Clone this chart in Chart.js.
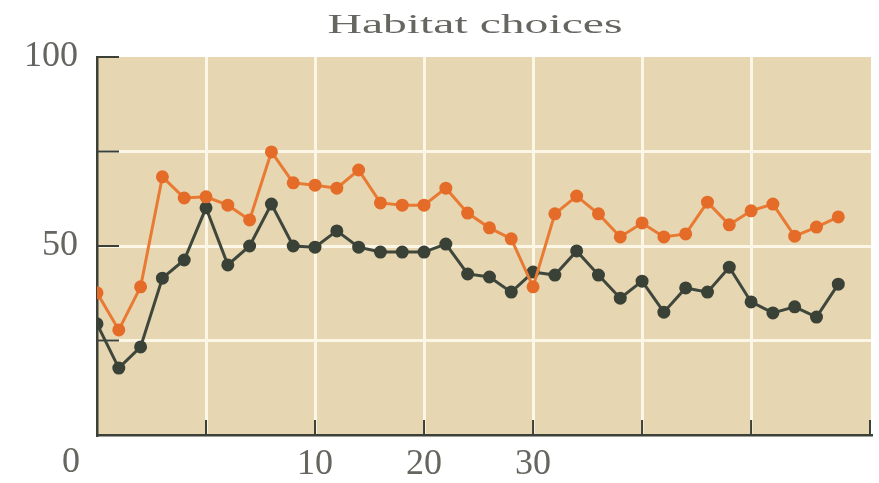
<!DOCTYPE html>
<html>
<head>
<meta charset="utf-8">
<title>Habitat choices</title>
<script src="https://cdn.jsdelivr.net/npm/chart.js@4.4.1/dist/chart.umd.min.js"></script>
<style>
  html, body { margin: 0; padding: 0; background: #ffffff; }
  #chart { display: block; }
</style>
</head>
<body>
<canvas id="chart" width="879" height="483"></canvas>
<script>
const chartTitle = "Habitat choices";
const generations = [0, 1, 2, 3, 4, 5, 6, 7, 8, 9, 10, 11, 12, 13, 14, 15, 16, 17,
  18, 19, 20, 21, 22, 23, 24, 25, 26, 27, 28, 29, 30, 31, 32, 33, 34];
const orangeChoices = [37.6, 27.8, 39.2, 68.3, 62.7, 63.0, 60.8, 56.9, 74.9, 66.7,
  66.1, 65.3, 70.1, 61.4, 60.8, 60.8, 65.3, 58.7, 54.8, 51.9, 39.2, 58.5, 63.2,
  58.5, 52.4, 56.1, 52.4, 53.2, 61.6, 55.6, 59.3, 61.1, 52.6, 55.0, 57.7];
const darkChoices = [29.4, 17.7, 23.3, 41.5, 46.3, 60.1, 45.0, 50.0, 61.1, 50.0,
  49.7, 54.0, 49.7, 48.4, 48.4, 48.4, 50.5, 42.6, 41.8, 37.8, 43.1, 42.3, 48.7,
  42.3, 36.2, 40.7, 32.5, 38.9, 37.8, 44.4, 35.2, 32.3, 33.9, 31.2, 39.9];
const xTickValues = [0, 5, 10, 15, 20, 25, 30];
const xTickLabels = ["", "", "10", "20", "30", "", ""];
const yTickValues = [0, 25, 50, 75, 100];
const yTickLabels = ["0", "", "50", "", "100"];

const axisColor = "#3d4036";
const labelColor = "#666660";
const gridColor = "#fbf6e6";

Chart.defaults.font.family = "'Liberation Serif', 'DejaVu Serif', serif";

// plot background, inward tick marks, origin label and the wide title
const habitatDecor = {
  id: "habitatDecor",
  beforeDraw(chart) {
    const { ctx, chartArea: a } = chart;
    ctx.save();
    ctx.fillStyle = "#e6d6b1";
    ctx.fillRect(a.left, a.top, a.right - a.left, a.bottom - a.top);
    ctx.restore();
  },
  beforeDatasetsDraw(chart) {
    const { ctx, chartArea: a, scales } = chart;
    ctx.save();
    ctx.strokeStyle = axisColor;
    ctx.lineWidth = 2;
    ctx.beginPath();
    xTickValues.forEach((v) => {
      if (v === 0) return;
      const px = scales.x.getPixelForValue(v);
      ctx.moveTo(px, a.bottom);
      ctx.lineTo(px, a.bottom - 15);
    });
    ctx.moveTo(a.right - 1, a.bottom);
    ctx.lineTo(a.right - 1, a.bottom - 15);
    yTickValues.forEach((v) => {
      if (v === 0) return;
      const py = scales.y.getPixelForValue(v);
      ctx.moveTo(a.left, py);
      ctx.lineTo(a.left + 22, py);
    });
    ctx.stroke();
    ctx.restore();
  },
  afterDraw(chart) {
    const { ctx, chartArea: a, scales } = chart;
    ctx.save();
    ctx.fillStyle = labelColor;
    ctx.font = "36px 'Liberation Serif'";
    ctx.textAlign = "right";
    ctx.textBaseline = "middle";
    ctx.fillText(yTickLabels[0], a.left - 17, scales.y.getPixelForValue(0) + 28);

    ctx.font = "28px 'Liberation Serif'";
    const w = ctx.measureText(chartTitle).width;
    ctx.translate((a.left + a.right) / 2 - 9, 33);
    ctx.scale(295 / w, 1);
    ctx.textAlign = "center";
    ctx.textBaseline = "alphabetic";
    ctx.fillText(chartTitle, 0, 0);
    ctx.restore();
  },
};

new Chart(document.getElementById("chart"), {
  type: "line",
  data: {
    labels: generations,
    datasets: [
      {
        label: "Orange",
        data: orangeChoices,
        borderColor: "#e97a33",
        backgroundColor: "#e46c28",
        pointBackgroundColor: "#e46c28",
        pointBorderColor: "#e46c28",
        borderWidth: 3,
        pointRadius: 5,
        tension: 0,
      },
      {
        label: "Dark",
        data: darkChoices,
        borderColor: "#3f473c",
        backgroundColor: "#3a4238",
        pointBackgroundColor: "#3a4238",
        pointBorderColor: "#3a4238",
        borderWidth: 3,
        pointRadius: 5,
        tension: 0,
      },
    ],
  },
  options: {
    responsive: false,
    animation: false,
    layout: { padding: { top: 57, right: 3, left: 0, bottom: 0 } },
    plugins: {
      legend: { display: false },
      tooltip: { enabled: false },
      title: { display: false },
    },
    scales: {
      x: {
        type: "linear",
        min: 0,
        max: 35.5,
        afterBuildTicks: (scale) => {
          scale.ticks = xTickValues.map((v) => ({ value: v }));
        },
        afterFit: (scale) => {
          scale.height = 48;
        },
        grid: {
          drawTicks: false,
          lineWidth: 3,
          color: (c) => (c.tick && c.tick.value === 0 ? "rgba(0,0,0,0)" : gridColor),
        },
        border: { color: axisColor, width: 2.5 },
        ticks: {
          padding: 8,
          color: labelColor,
          font: { size: 36 },
          maxRotation: 0,
          autoSkip: false,
          callback: (value) => {
            const i = xTickValues.indexOf(value);
            return i >= 0 ? xTickLabels[i] : "";
          },
        },
      },
      y: {
        min: 0,
        max: 100,
        afterBuildTicks: (scale) => {
          scale.ticks = yTickValues.map((v) => ({ value: v }));
        },
        afterFit: (scale) => {
          scale.width = 97;
        },
        grid: {
          drawTicks: false,
          lineWidth: 3,
          color: (c) =>
            c.tick && (c.tick.value === 0 || c.tick.value === 100) ? "rgba(0,0,0,0)" : gridColor,
        },
        border: { color: axisColor, width: 2.5 },
        ticks: {
          padding: 19,
          color: labelColor,
          font: { size: 36 },
          autoSkip: false,
          callback: (value) => {
            if (value === 0) return "";
            const i = yTickValues.indexOf(value);
            return i >= 0 ? yTickLabels[i] : "";
          },
        },
      },
    },
  },
  plugins: [habitatDecor],
});
</script>
</body>
</html>
